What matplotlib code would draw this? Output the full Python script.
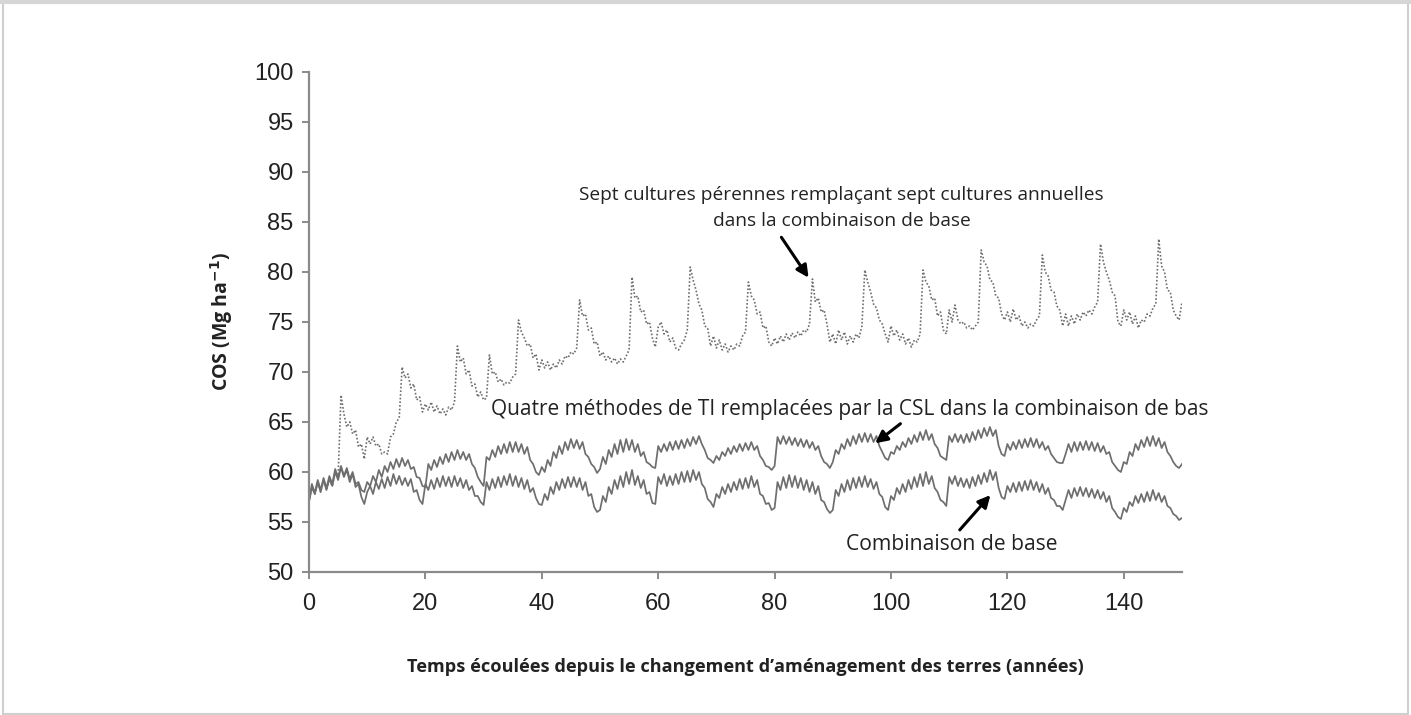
import numpy as np
import matplotlib.pyplot as plt
from matplotlib.patches import Rectangle

# Temps (années), pas de 0.5 an
annees = np.arange(0, 150.5, 0.5)

# Combinaison de base (trait plein, en bas)
base = [
    57.0, 58.5, 57.8, 59.0, 58.0, 59.2, 58.2, 59.3, 58.6, 60.0, 59.2, 60.5, 59.5, 60.2, 59.0, 59.8, 58.5, 58.8, 57.5, 56.8,
    58.0, 58.6, 57.8, 59.0, 58.3, 59.3, 58.4, 59.5, 58.6, 59.8, 58.8, 59.6, 58.7, 59.4, 58.6, 59.3, 58.0, 58.2, 57.2, 56.8,
    58.8, 58.2, 59.2, 58.3, 59.4, 58.5, 59.6, 58.6, 59.5, 58.5, 59.6, 58.6, 59.4, 58.4, 59.2, 58.2, 58.6, 57.6, 57.6, 57.0,
    56.7, 59.0, 58.2, 59.3, 58.4, 59.5, 58.5, 59.6, 58.7, 59.8, 58.6, 59.6, 58.5, 59.4, 58.3, 59.2, 58.0, 58.4, 57.4, 56.8,
    56.7, 57.8, 57.2, 58.5, 57.8, 59.0, 58.2, 59.3, 58.4, 59.5, 58.5, 59.5, 58.5, 59.4, 58.2, 59.0, 57.6, 57.8, 56.5, 56.0,
    56.2, 57.6, 57.0, 58.5, 57.8, 59.2, 58.3, 59.6, 58.5, 60.0, 58.8, 60.2, 58.7, 59.6, 58.4, 59.2, 57.8, 58.0, 56.9, 56.8,
    59.5, 58.8, 59.8, 58.6, 59.6, 58.7, 59.8, 58.8, 60.0, 59.0, 60.1, 59.0, 60.2, 59.2, 60.0, 58.8, 58.4, 57.3, 57.0, 56.5,
    57.8, 57.4, 58.5, 57.8, 58.8, 58.0, 59.0, 58.2, 59.3, 58.3, 59.4, 58.4, 59.6, 58.5, 59.2, 57.8, 57.6, 56.8, 56.9, 56.2,
    56.4, 59.0, 58.2, 59.5, 58.4, 59.7, 58.5, 59.6, 58.4, 59.4, 58.2, 59.2, 58.0, 59.0, 57.8, 58.6, 57.2, 57.0, 56.3, 55.9,
    56.2, 58.2, 57.6, 58.8, 58.0, 59.2, 58.2, 59.4, 58.4, 59.5, 58.5, 59.6, 58.5, 59.3, 58.3, 59.0, 57.8, 57.5, 56.5, 56.2,
    57.6, 57.2, 58.4, 57.8, 58.8, 58.0, 59.2, 58.3, 59.5, 58.5, 59.8, 58.6, 60.0, 58.8, 59.6, 58.4, 58.0, 57.2, 57.0, 56.6,
    59.5, 58.8, 59.6, 58.6, 59.4, 58.5, 59.3, 58.4, 59.5, 58.6, 59.7, 58.8, 59.9, 59.0, 60.2, 59.2, 60.0, 58.4, 57.5, 57.3,
    58.6, 58.0, 58.9, 58.0, 59.0, 58.1, 59.1, 58.2, 59.2, 58.2, 59.0, 58.0, 58.8, 57.8, 58.4, 57.4, 57.2, 56.6, 56.6, 56.2,
    57.2, 58.2, 57.4, 58.4, 57.6, 58.5, 57.6, 58.4, 57.5, 58.3, 57.4, 58.2, 57.3, 58.0, 57.0, 57.6, 56.4, 56.0, 55.5, 55.3,
    56.4, 56.0, 57.0, 56.6, 57.6, 56.9, 57.8, 57.0, 58.0, 57.1, 58.2, 57.2, 57.9, 57.0, 57.6, 56.6, 56.4, 55.8, 55.6, 55.2,
    55.4,
]

# Quatre méthodes de TI remplacées par la CSL (trait plein, au milieu)
ti_csl = [
    57.2, 58.8, 57.9, 59.2, 58.2, 59.4, 58.4, 59.6, 58.8, 60.3, 59.4, 60.6, 59.6, 60.4, 59.3, 60.0, 58.8, 59.0, 58.2, 58.0,
    59.0, 58.6, 59.6, 59.0, 60.2, 59.5, 60.6, 60.0, 61.0, 60.3, 61.3, 60.5, 61.4, 60.6, 61.2, 60.3, 60.5, 59.5, 59.4, 58.6,
    58.5, 60.8, 60.2, 61.2, 60.5, 61.5, 60.8, 61.8, 61.0, 62.0, 61.2, 62.2, 61.3, 62.0, 61.2, 61.8, 60.8, 60.4, 59.5, 59.0,
    58.6, 61.5, 61.2, 62.2, 61.5, 62.6, 61.8, 62.8, 61.9, 63.0, 62.0, 63.0, 62.0, 62.8, 61.8, 62.5, 61.2, 60.8, 60.0, 59.7,
    60.5, 60.0, 61.2, 60.6, 62.0, 61.4, 62.6, 61.8, 63.0, 62.2, 63.3, 62.4, 63.2, 62.3, 63.0, 61.8, 61.5, 60.8, 60.5, 59.9,
    60.3, 61.5, 60.8, 62.2, 61.5, 62.8, 61.8, 63.2, 62.0, 63.3, 62.2, 63.2, 62.0, 62.8, 61.6, 62.0, 61.0, 60.8, 60.5, 60.4,
    62.6, 62.0, 62.8, 62.1, 63.0, 62.2, 63.1, 62.3, 63.2, 62.4, 63.3, 62.6, 63.5, 62.8, 63.6, 62.8, 62.2, 61.4, 61.2, 60.9,
    61.6, 61.2, 62.0, 61.6, 62.4, 61.8, 62.6, 62.0, 62.8, 62.1, 62.9, 62.2, 63.0, 62.2, 62.6, 61.6, 61.2, 60.6, 60.5, 60.2,
    60.6, 63.5, 62.8, 63.6, 62.8, 63.5, 62.7, 63.4, 62.6, 63.3, 62.5, 63.2, 62.4, 63.0, 62.2, 62.6, 61.6, 61.0, 60.8, 60.4,
    61.0, 62.2, 61.8, 62.8, 62.3, 63.3, 62.6, 63.6, 62.8, 63.8, 63.0, 63.9, 63.0, 63.8, 63.0, 63.6, 62.6, 62.0, 61.4, 61.2,
    62.0, 61.8, 62.6, 62.2, 63.0, 62.5, 63.4, 62.8, 63.7, 63.0, 64.0, 63.2, 64.2, 63.2, 63.8, 62.8, 62.4, 61.6, 61.4, 61.2,
    63.6, 63.0, 63.8, 63.0, 63.7, 62.9, 63.8, 63.0, 64.0, 63.2, 64.2, 63.4, 64.4, 63.6, 64.5, 63.6, 64.2, 62.6, 61.8, 61.6,
    62.8, 62.2, 63.0, 62.3, 63.2, 62.4, 63.3, 62.5, 63.4, 62.5, 63.3, 62.4, 63.0, 62.2, 62.6, 61.8, 61.4, 61.0, 60.9, 60.9,
    61.8, 62.8, 62.0, 63.0, 62.1, 63.0, 62.2, 63.1, 62.2, 63.0, 62.1, 62.9, 62.0, 62.6, 61.8, 62.0, 61.0, 60.6, 60.2, 60.0,
    61.0, 60.8, 62.0, 61.6, 62.8, 62.2, 63.2, 62.5, 63.5, 62.6, 63.6, 62.6, 63.4, 62.4, 63.0, 62.0, 61.6, 61.0, 60.6, 60.4,
    60.8,
]

# Sept cultures pérennes remplaçant sept cultures annuelles (pointillés)
perennes = [
    57.0, 58.5, 57.8, 59.0, 58.0, 59.2, 58.2, 59.3, 58.6, 60.0, 59.5, 67.7, 65.8, 64.5, 65.0, 63.8, 64.2, 62.5, 62.8, 61.3,
    63.5, 62.8, 63.5, 62.6, 62.8, 61.8, 62.0, 61.8, 63.5, 63.8, 65.0, 65.4, 70.5, 69.4, 69.8, 68.4, 68.8, 67.2, 67.5, 66.0,
    66.8, 66.2, 67.0, 66.0, 66.6, 65.8, 66.3, 65.7, 66.5, 66.2, 67.0, 72.6, 71.0, 71.4, 69.8, 70.2, 68.6, 68.8, 67.5, 68.0,
    67.2, 67.4, 71.7, 69.8, 70.0, 69.0, 69.3, 68.7, 69.0, 68.9, 69.5, 69.8, 75.2, 74.0, 73.4, 72.6, 72.8, 71.4, 71.8, 70.2,
    71.2, 70.4, 71.0, 70.2, 70.8, 70.4, 71.2, 70.8, 71.6, 71.4, 72.0, 71.8, 72.4, 77.2, 75.6, 75.8, 74.2, 74.4, 72.8, 73.0,
    71.6, 72.0, 71.2, 71.6, 71.0, 71.4, 70.8, 71.3, 71.0, 71.6, 72.2, 79.5, 77.4, 77.6, 76.0, 76.2, 74.8, 75.0, 73.4, 72.5,
    74.5, 75.0, 73.8, 74.2, 73.0, 73.4, 72.4, 72.2, 72.8, 73.2, 74.2, 80.5, 79.2, 78.2, 76.8, 76.2, 74.6, 74.4, 72.6, 73.6,
    72.4, 73.2, 72.2, 72.8, 72.0, 72.6, 72.2, 72.8, 72.6, 73.6, 74.0, 79.0, 77.6, 77.2, 75.8, 76.0, 74.4, 74.6, 73.0, 72.6,
    73.4, 72.8, 73.6, 73.0, 73.8, 73.2, 73.9, 73.4, 74.0, 73.6, 74.2, 74.0, 74.8, 79.3, 77.0, 77.4, 76.0, 76.2, 74.8, 73.0,
    73.8, 72.8, 74.2, 73.2, 74.0, 72.8, 73.6, 73.0, 73.8, 73.4, 74.6, 80.2, 79.0, 78.0, 76.8, 76.4, 75.2, 74.8, 73.8, 73.0,
    74.6, 73.6, 74.2, 73.2, 73.8, 72.8, 73.4, 72.5, 73.2, 73.0, 73.8, 80.2, 79.0, 78.6, 77.2, 77.4, 75.6, 76.0, 74.2, 73.8,
    76.2, 75.0, 76.7, 75.2, 74.8, 75.0, 74.4, 74.6, 74.2, 74.6, 75.0, 82.2, 81.0, 80.6, 79.2, 79.0, 77.6, 77.4, 75.8, 75.2,
    76.0, 75.0, 76.3, 75.2, 75.6, 74.6, 75.0, 74.4, 74.8, 74.6, 75.2, 75.6, 81.7, 80.0, 79.6, 78.2, 78.0, 76.6, 76.2, 74.6,
    75.8, 74.6, 75.6, 74.8, 75.8, 75.2, 76.0, 75.6, 76.2, 75.8, 76.5, 77.0, 82.8, 81.0, 80.0, 79.2, 78.0, 77.6, 75.0, 74.6,
    76.2, 75.2, 76.0, 74.8, 75.6, 74.4, 75.2, 75.0, 75.8, 75.6, 76.4, 76.8, 83.3, 80.6, 80.0, 78.2, 78.0, 76.2, 75.6, 75.2,
    77.0,
]

police = 'Open Sans'
gris = '#6e6e6e'
gris_axe = '#8a8a8a'
noir = '#222222'

fig = plt.figure(figsize=(14.11, 7.15), dpi=100)
ax = fig.add_axes([309 / 1411, 1 - 572 / 715, (1182 - 309) / 1411, (572 - 72) / 715])

ax.plot(annees, perennes, color=gris, lw=1.2, ls=(0, (1, 1.2)))
ax.plot(annees, ti_csl, color=gris, lw=1.25)
ax.plot(annees, base, color=gris, lw=1.25)

ax.set_xlim(0, 150)
ax.set_ylim(50, 100)
ax.set_xticks(np.arange(0, 150, 20))
ax.set_yticks(np.arange(50, 101, 5))
for s in ['top', 'right']:
    ax.spines[s].set_visible(False)
for s in ['left', 'bottom']:
    ax.spines[s].set_color(gris_axe)
    ax.spines[s].set_linewidth(1.6)
ax.tick_params(colors=gris_axe, width=1.4, length=5, labelcolor=noir,
               labelsize=17)
ax.tick_params(axis='x', pad=10)
ax.tick_params(axis='y', pad=6)
for lab in ax.get_xticklabels() + ax.get_yticklabels():
    lab.set_family('Liberation Sans')

ax.set_ylabel(r'COS (Mg ha$^{\mathbf{-1}}$)', family=police, fontweight='bold',
              fontsize=14, labelpad=14, color=noir)
ax.set_xlabel('Temps écoulées depuis le changement d’aménagement des terres (années)',
              family=police, fontweight='bold', fontsize=13.1, labelpad=31,
              color=noir)

fleche = dict(arrowstyle='-|>', color='black', lw=2.2, mutation_scale=18)
ax.text(91.5, 86.4, 'Sept cultures pérennes remplaçant sept cultures annuelles\ndans la combinaison de base',
        ha='center', va='center', multialignment='center', linespacing=1.6,
        family=police, fontsize=13.8, color=noir)
ax.annotate('', xy=(86.1, 79.2), xytext=(80.9, 83.7), arrowprops=fleche)
ax.text(31.2, 66.2, 'Quatre méthodes de TI remplacées par la CSL dans la combinaison de bas',
        family=police, fontsize=15, color=noir, va='center', clip_on=False)
ax.annotate('', xy=(96.9, 62.7), xytext=(102.0, 65.0), arrowprops=fleche)
ax.text(92.2, 52.7, 'Combinaison de base', family=police, fontsize=15.2,
        color=noir, va='center')
ax.annotate('', xy=(117.4, 57.9), xytext=(111.5, 54.0), arrowprops=fleche)

# cadre gris autour de l'image
fig.patches.append(Rectangle((0.002, 0.002), 0.996, 0.994, transform=fig.transFigure,
                             fill=False, edgecolor='#cfcfcf', lw=1.5))
fig.patches.append(Rectangle((0, 0.995), 1, 0.005, transform=fig.transFigure,
                             color='#d6d6d6', lw=0))

fig.savefig('out.png', dpi=100)
